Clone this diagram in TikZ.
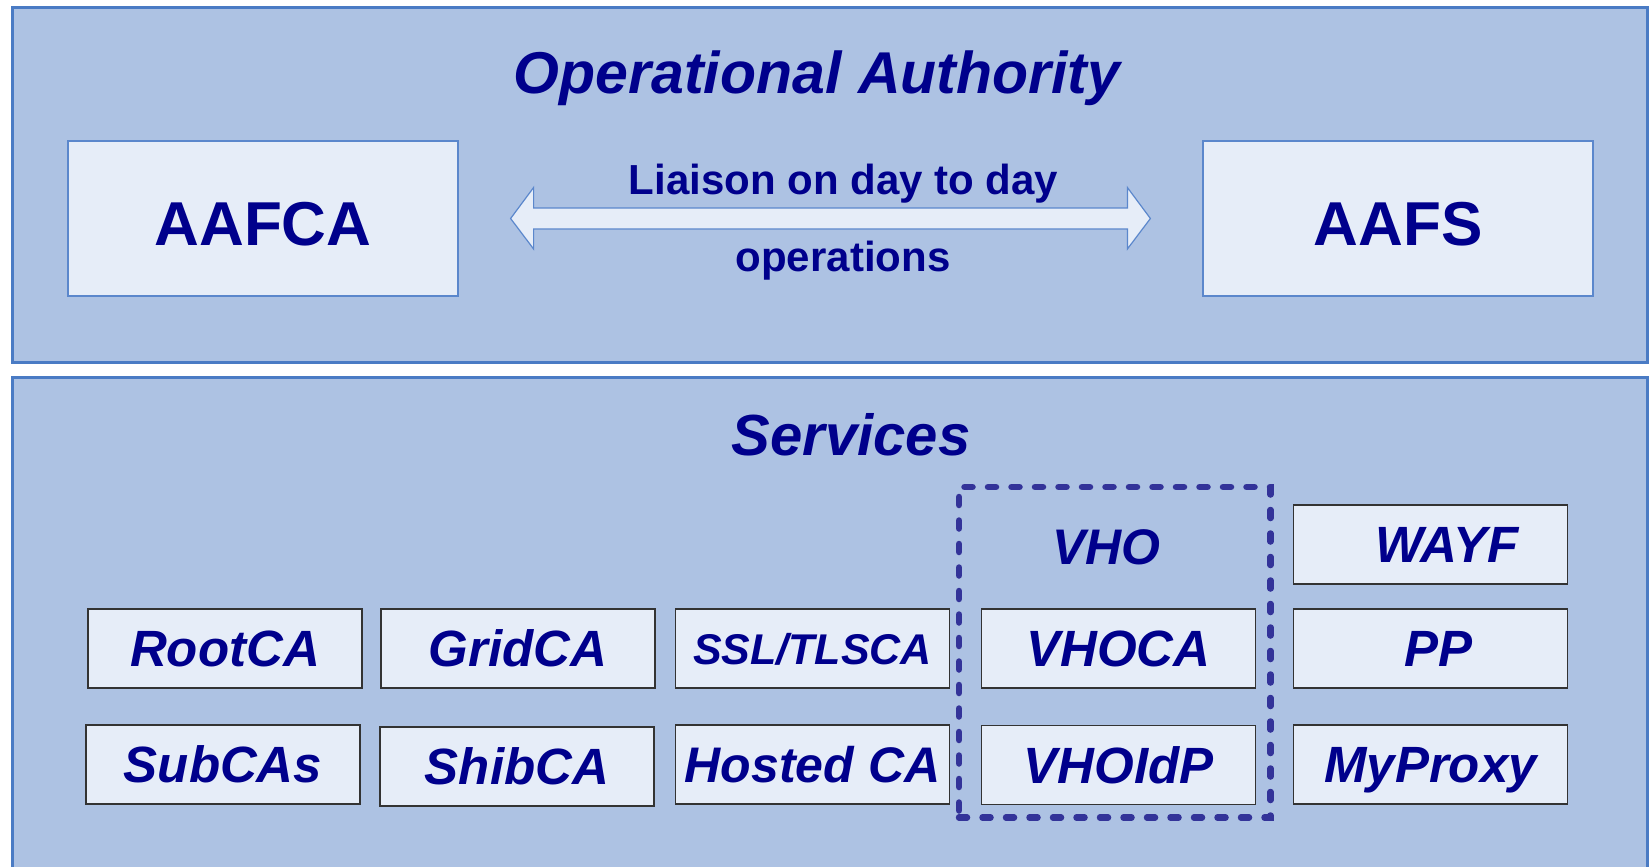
\documentclass[tikz,border=0pt]{standalone}
\usepackage{fontspec}
\setmainfont{Liberation Sans}
\usetikzlibrary{calc}
\definecolor{panelfill}{RGB}{173,194,227}
\definecolor{panelline}{RGB}{74,123,196}
\definecolor{boxfill}{RGB}{230,237,248}
\definecolor{boxline}{RGB}{91,135,204}
\definecolor{txt}{RGB}{0,0,140}
\definecolor{vholine}{RGB}{51,51,153}
\newcommand\fsz[1]{\fontsize{#1}{#1}\selectfont}
\begin{document}
\begin{tikzpicture}[x=1pt,y=-1pt,
  panel/.style={draw=panelline,line width=3pt,fill=panelfill},
  orgbox/.style={draw=boxline,line width=1.2pt,fill=boxfill,minimum width=390pt,minimum height=155pt,inner sep=0pt,text=txt,font=\fsz{62}\bfseries,text height=53pt,text depth=0pt},
  svcbox/.style={draw=black!80,line width=1.3pt,fill=boxfill,minimum width=274pt,minimum height=79pt,inner sep=0pt,text=txt,font=\fsz{51}\bfseries\itshape,text height=36pt,text depth=0pt},
  svclabel/.style={inner sep=0pt,text=txt,font=\fsz{50}\bfseries\itshape,text height=36pt,text depth=0pt},
  title/.style={text=txt,font=\fsz{59}\bfseries\itshape,anchor=base,inner sep=0pt},
  liaison/.style={text=txt,font=\fsz{42}\bfseries,anchor=base,inner sep=0pt},
  arrowbox/.style={draw=boxline,line width=1.2pt,fill=boxfill,line join=miter},
  vhogroup/.style={draw=vholine,line width=6.5pt,dash pattern=on 8pt off 15.5pt,line cap=round,minimum width=311.5pt,minimum height=330.5pt,inner sep=0pt}
]
\useasboundingbox (0,0) rectangle (1650,867);
\clip (0,0) rectangle (1650,867);
\fill[white] (0,0) rectangle (1650,867);
% panels
\draw[panel] (12,8) rectangle (1647,362);
\draw[panel] (12,377) rectangle (1647,900);
% top panel
\node[title] (oa) at (817,93) {Operational Authority};
\node[orgbox] (aafca) at (263,218.5) {AAFCA};
\node[orgbox] (aafs) at (1398,218.5) {AAFS};
\coordinate (la) at ([xshift=52pt]aafca.east);
\coordinate (ra) at ([xshift=-52pt]aafs.west);
\draw[arrowbox] (la) -- ($(la)+(23,-31)$) -- ($(la)+(23,-10.5)$) -- ($(ra)+(-23,-10.5)$)
  -- ($(ra)+(-23,-31)$) -- (ra) -- ($(ra)+(-23,30.5)$) -- ($(ra)+(-23,10.5)$)
  -- ($(la)+(23,10.5)$) -- ($(la)+(23,30.5)$) -- cycle;
\node[liaison] (l1) at (843.5,194) {Liaison on day to day};
\node[liaison] (l2) at (843,271) {operations};
% services panel
\node[title,font=\fsz{58}\bfseries\itshape] (serv) at (851,455) {Services};
\node[vhogroup] (vho) at (1114.75,652.25) {};
\node[svclabel] (vholab) at (1106.5,546) {VHO};
\node[svcbox] (rootca) at (225,648.5) {RootCA};
\node[svcbox] (gridca) at (518,648.5) {GridCA};
\node[svcbox,font=\fsz{43}\bfseries\itshape,text height=31pt] (sslca) at (812.5,648.5) {SSL/TLSCA};
\node[svcbox] (vhoca) at (1118.5,648.5) {VHOCA};
\node[svcbox] (pp) at (1430.5,648.5) {\hspace*{16pt}PP};
\node[svcbox] (wayf) at (1430.5,544.5) {\hspace*{33pt}WAYF};
\node[svcbox] (subcas) at (223,764.5) {SubCAs};
\node[svcbox] (shibca) at (517,766.5) {ShibCA};
\node[svcbox,font=\fsz{50}\bfseries\itshape] (hosted) at (812.5,764.5) {Hosted CA};
\node[svcbox] (vhoidp) at (1118.5,765) {VHOIdP};
\node[svcbox] (myproxy) at (1430.5,764.5) {MyProxy};
\end{tikzpicture}
\end{document}
